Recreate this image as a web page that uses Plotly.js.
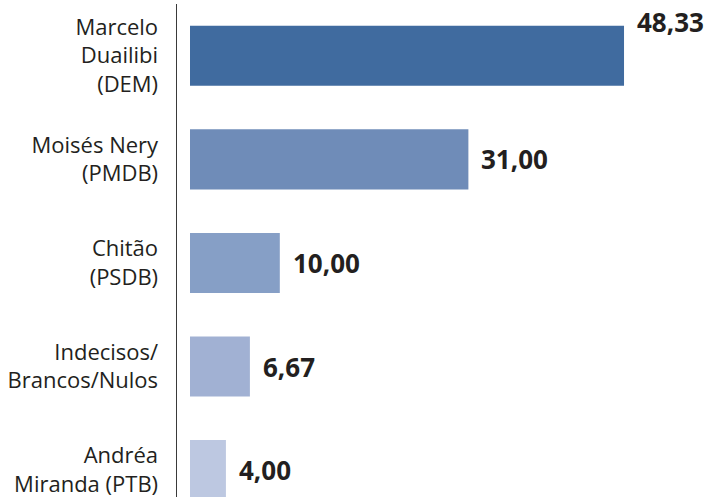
<!DOCTYPE html>
<html>
<head>
<meta charset="utf-8">
<script src="https://cdn.plot.ly/plotly-3.0.1.min.js"></script>
<style>html,body{margin:0;padding:0;background:#fff;}#chart{width:707px;height:497px;}</style>
</head>
<body>
<div id="chart"></div>
<script>
const categories = ["Marcelo<br>Duailibi<br>(DEM)", "Moisés Nery<br>(PMDB)", "Chitão<br>(PSDB)", "Indecisos/<br>Brancos/Nulos", "Andréa<br>Miranda (PTB)"];
const values = [48.33, 31.00, 10.00, 6.67, 4.00];
const valueLabels = ["48,33", "31,00", "10,00", "6,67", "4,00"];
const colors = ["#406b9f", "#6f8cb8", "#869fc6", "#a1b1d3", "#bdc8e1"];

const trace = {
  type: "bar",
  orientation: "h",
  x: values,
  y: categories,
  marker: {color: colors, line: {width: 0}},
  width: 0.58,
  hoverinfo: "none"
};

const annotations = values.map((v, i) => ({
  x: v, y: categories[i], xref: "x", yref: "y",
  text: "<b>" + valueLabels[i] + "</b>",
  showarrow: false, xanchor: "left", yanchor: "middle",
  xshift: 11, yshift: i === 0 ? 34 : 0,
  font: {family: "Open Sans, Noto Sans, sans-serif", size: 26, color: "#231f20"}
}));

const layout = {
  width: 707, height: 497,
  margin: {l: 177, r: 0, t: 4, b: 0},
  paper_bgcolor: "#ffffff", plot_bgcolor: "#ffffff",
  showlegend: false,
  xaxis: {range: [-1.448, 57.57], visible: false, showgrid: false, zeroline: false, fixedrange: true},
  yaxis: {
    range: [4.26, -0.5],
    showline: true, linecolor: "#3a3a3a", linewidth: 1.5,
    showgrid: false, zeroline: false, ticks: "", ticklabelstandoff: 13,
    tickfont: {family: "Open Sans, Noto Sans, sans-serif", size: 22, color: "#231f20"},
    fixedrange: true
  },
  annotations: annotations
};

Plotly.newPlot("chart", [trace], layout, {displayModeBar: false, staticPlot: true});
</script>
</body>
</html>
